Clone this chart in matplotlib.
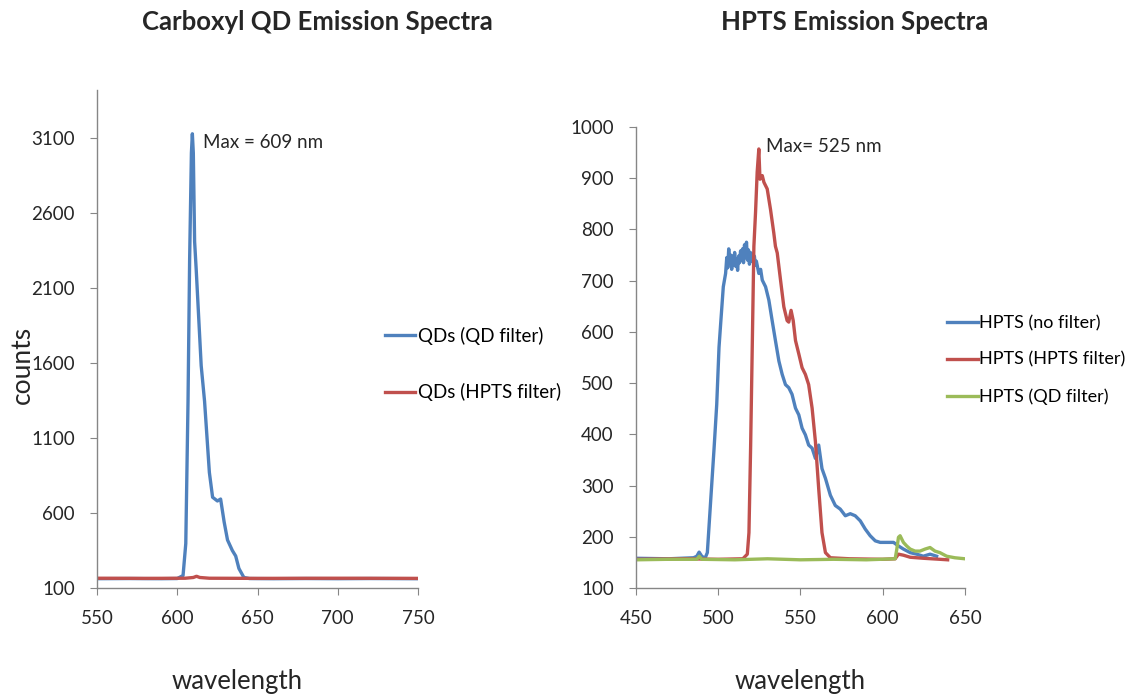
import numpy as np
import matplotlib
matplotlib.use("Agg")
import matplotlib.pyplot as plt

plt.rcParams['font.family'] = ['Lato', 'DejaVu Sans']

#================ Carboxyl QD spectra =================
qd_wl = [550, 570, 590, 600, 603.6, 605.3, 606.7, 607.7, 608.8, 609.4, 610.0, 610.8,
         611.8, 614.9, 617.0, 620.0, 622.0, 625.0, 627.0, 629.2, 631.3, 634.3, 636.4,
         638.4, 641.5, 645, 660, 680, 700, 720, 750]
qd_qdfilter = [162, 163, 162, 163, 183, 396, 1345, 2290, 3000, 3128, 3000, 2410,
               2222, 1582, 1345, 870, 705, 680, 693, 540, 420, 350, 313,
               230, 170, 163, 162, 163, 162, 163, 162]

qd_hp_wl = [550, 580, 605, 610, 612, 614, 620, 650, 700, 750]
qd_hptsfilter = [165, 164, 165, 170, 178, 170, 165, 164, 165, 164]

#================ HPTS spectra =================
hp_wl_blue = [450, 470, 485, 487, 488.4, 490, 492, 493.4, 495.5, 497.5, 499.1, 500.5,
              501.5, 503.1, 504.5, 505.2, 505.8, 506.4, 507.0, 507.6, 508.2, 508.8, 509.4,
              510.0, 510.6, 511.2, 511.8, 512.4, 513.0, 513.6, 514.2, 514.8, 515.4, 516.0,
              516.6, 517.2, 517.8, 518.4, 519.0, 519.6, 520.2, 520.8, 521.4, 522.0, 522.6,
              523.2, 524.7, 525.8, 526.8, 528.8, 530.8, 532.8, 534.8, 536.9, 538.9, 540.9,
              542.9, 544.9, 547.0, 549.0, 551.0, 553.0, 555.0, 557.1, 559.1, 561.1, 563.1,
              565.2, 568.2, 571.2, 574.2, 577.3, 580.3, 583.3, 586.4, 589.4, 592.4, 595.5,
              598.5, 602.5, 606.6, 609.6, 612.6, 616.7, 620.7, 624.7, 628.8, 632.8]
hp_noflt = [158, 157, 159, 162, 170, 162, 158, 169, 274, 373, 458, 570,
            616, 688, 714, 745, 725, 762, 735, 750, 722, 748, 730,
            755, 728, 742, 720, 748, 735, 758, 740, 762, 735, 770,
            745, 775, 740, 760, 732, 755, 738, 752, 735, 748, 730,
            738, 714, 722, 701, 688, 662, 622, 583, 543, 517, 497,
            491, 478, 451, 438, 412, 399, 379, 373, 353, 379, 333,
            314, 281, 261, 254, 241, 245, 241, 231, 215, 202, 192,
            189, 189, 189, 182, 176, 169, 166, 162, 166, 162]

hp_wl_red = [450, 480, 500, 515, 517.7, 518.7, 519.7, 520.7, 521.7, 522.7, 523.7, 524.7,
             525.4, 526.8, 527.8, 529.8, 531.8, 533.8, 534.8, 535.9, 537.9, 539.9, 541.9,
             542.9, 544.3, 545.6, 547.0, 549.0, 551.0, 553.0, 555.0, 557.1, 559.1, 561.1,
             563.1, 565.2, 568.2, 580, 600, 607.6, 609.6, 612.6, 616.7, 624.7, 634.8, 639.5]
hp_hptsflt = [156, 157, 156, 157, 166, 208, 373, 570, 767, 833, 912, 957,
              898, 905, 892, 879, 839, 793, 767, 754, 701, 649, 622,
              619, 642, 622, 583, 557, 530, 517, 497, 451, 386, 294,
              208, 169, 159, 157, 156, 157, 166, 164, 160, 158, 156, 155]

hp_wl_green = [450, 470, 487, 488.5, 490, 510, 530, 550, 570, 590, 607.6, 608.6,
               609.6, 610.6, 612.6, 614.6, 616.7, 619.7, 622.7, 625.8, 628.8, 631.8,
               634.8, 638.9, 643.9, 650]
hp_qdflt = [155, 156, 156, 162, 156, 155, 157, 155, 156, 155, 157, 176,
            199, 202, 189, 182, 176, 172, 172, 176, 179, 172,
            169, 162, 159, 157]

blue = '#4F81BD'
red = '#C0504D'
green = '#9BBB59'
grey = '#868686'
ink = '#262626'
lw = 2.4

fig = plt.figure(figsize=(11.32, 6.96), dpi=100)
ax1 = fig.add_axes([0.0857, 0.1552, 0.2836, 0.7155])
ax2 = fig.add_axes([0.5618, 0.1552, 0.2906, 0.6624])

ax1.plot(qd_wl, qd_qdfilter, color=blue, lw=lw, label='QDs (QD filter)')
ax1.plot(qd_hp_wl, qd_hptsfilter, color=red, lw=lw, label='QDs (HPTS filter)')
ax1.set_xlim(550, 750)
ax1.set_ylim(100, 3420)
ax1.set_xticks([550, 600, 650, 700, 750])
ax1.set_yticks([100, 600, 1100, 1600, 2100, 2600, 3100])
ax1.text(616, 3067, 'Max = 609 nm', fontsize=13.5, va='center', color=ink)

ax2.plot(hp_wl_blue, hp_noflt, color=blue, lw=lw, label='HPTS (no filter)')
ax2.plot(hp_wl_red, hp_hptsflt, color=red, lw=lw, label='HPTS (HPTS filter)')
ax2.plot(hp_wl_green, hp_qdflt, color=green, lw=lw, label='HPTS (QD filter)')
ax2.set_xlim(450, 650)
ax2.set_ylim(100, 1000)
ax2.set_xticks([450, 500, 550, 600, 650])
ax2.set_yticks(range(100, 1001, 100))
ax2.text(529, 961, 'Max= 525 nm', fontsize=13.5, va='center', color=ink)

for ax in (ax1, ax2):
    for s in ('top', 'right'):
        ax.spines[s].set_visible(False)
    for s in ('left', 'bottom'):
        ax.spines[s].set_color(grey)
        ax.spines[s].set_linewidth(1.0)
    ax.tick_params(direction='out', length=5, color=grey, labelsize=13.5,
                   labelcolor=ink, pad=11)
    ax.tick_params(axis='x', pad=11)

ax1.legend(loc='center left', bbox_to_anchor=(385 / 1132, 1 - 364 / 696),
           bbox_transform=fig.transFigure, frameon=False, fontsize=13.5,
           handlelength=1.6, handletextpad=0.15, labelspacing=2.05, borderpad=0,
           borderaxespad=0)
ax2.legend(loc='center left', bbox_to_anchor=(947 / 1132, 1 - 360 / 696),
           bbox_transform=fig.transFigure, frameon=False, fontsize=13,
           handlelength=1.7, handletextpad=0.1, labelspacing=1.15, borderpad=0,
           borderaxespad=0)

fig.text(317 / 1132, 1 - 22 / 696, 'Carboxyl QD Emission Spectra', ha='center',
         va='center', fontsize=18.5, fontweight='bold', color=ink)
fig.text(855 / 1132, 1 - 22 / 696, 'HPTS Emission Spectra', ha='center',
         va='center', fontsize=18.5, fontweight='bold', color=ink)
fig.text(22 / 1132, 1 - 365 / 696, 'counts', rotation=90, ha='center',
         va='center', fontsize=19, color=ink)
fig.text(237 / 1132, 1 - 682 / 696, 'wavelength', ha='center', va='center',
         fontsize=18.5, color=ink)
fig.text(800 / 1132, 1 - 682 / 696, 'wavelength', ha='center', va='center',
         fontsize=18.5, color=ink)

fig.savefig('out.png', dpi=100)
